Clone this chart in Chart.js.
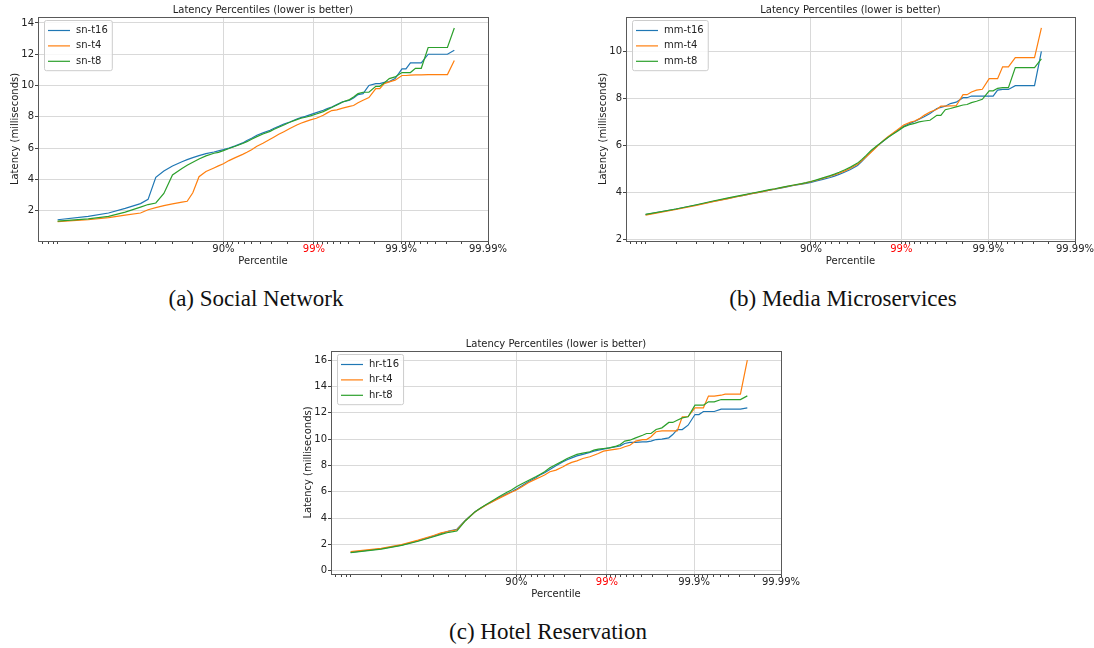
<!DOCTYPE html>
<html lang="en">
<head>
<meta charset="UTF-8">
<title>Latency Percentiles</title>
<script src="https://cdn.jsdelivr.net/npm/chart.js"></script>
<style>
  body { margin: 0; width: 1094px; height: 648px; background: #fff; overflow: hidden; position: relative; }
  canvas { position: absolute; }
  .caption { position: absolute; font-family: 'Liberation Serif', serif; font-size: 23px; line-height: 26px; color: #111; white-space: nowrap; transform: translateX(-50%); }
</style>
</head>
<body>
<canvas id="sn" width="518" height="270" style="left:0;top:0"></canvas>
<canvas id="mm" width="509" height="270" style="left:588px;top:0"></canvas>
<canvas id="hr" width="518" height="269" style="left:293px;top:334px"></canvas>
<div class="caption" style="left:256px;top:286px">(a) Social Network</div>
<div class="caption" style="left:843px;top:286px">(b) Media Microservices</div>
<div class="caption" style="left:548px;top:619px">(c) Hotel Reservation</div>

<script>
// percentile points reported by the load generator (0% and 100% fall off a logit axis)
const percentiles = [10, 20, 30, 40, 50, 55, 60, 65, 70, 75, 77.5, 80, 82.5, 85, 87.5, 88.75,
  90, 91.25, 92.5, 93.75, 94.375, 95, 95.625, 96.25, 96.875, 97.1875, 97.5, 97.8125, 98.125,
  98.4375, 98.59375, 98.75, 98.90625, 99.0625, 99.21875, 99.296875, 99.375, 99.453125, 99.53125,
  99.609375, 99.6484375, 99.6875, 99.7265625, 99.765625, 99.8046875, 99.82421875, 99.84375,
  99.86328125, 99.8828125, 99.90234375, 99.912109375, 99.921875, 99.931640625, 99.94140625,
  99.951171875, 99.9560546875, 99.9609375, 99.9658203125, 99.970703125, 99.9755859375];

// social network (ms)
const snT16 = [1.42, 1.63, 1.85, 2.15, 2.45, 2.72, 4.13, 4.54, 4.86, 5.13, 5.26, 5.39, 5.52, 5.65, 5.75, 5.82,
  5.9, 6.0, 6.14, 6.33, 6.48, 6.63, 6.82, 6.97, 7.14, 7.27, 7.39, 7.54, 7.67, 7.86, 7.95, 8.03, 8.14,
  8.27, 8.42, 8.52, 8.63, 8.78, 8.95, 9.06, 9.2, 9.42, 9.48, 10.0, 10.12, 10.12, 10.2, 10.25, 10.44,
  11.06, 11.06, 11.45, 11.45, 11.45, 12.0, 12.0, 12.0, 12.0, 12.0, 12.26];
const snT4 = [1.3, 1.42, 1.55, 1.72, 1.85, 2.06, 2.19, 2.32, 2.43, 2.54, 2.6, 3.14, 4.17, 4.5, 4.73, 4.86,
  5.0, 5.2, 5.39, 5.6, 5.73, 5.9, 6.12, 6.31, 6.56, 6.71, 6.88, 7.05, 7.25, 7.48, 7.59, 7.69, 7.8,
  7.91, 8.1, 8.25, 8.4, 8.44, 8.55, 8.67, 8.72, 8.9, 9.06, 9.23, 9.8, 9.8, 10.12, 10.23, 10.34,
  10.64, 10.64, 10.66, 10.68, 10.68, 10.7, 10.7, 10.7, 10.7, 10.7, 11.6];
const snT8 = [1.33, 1.48, 1.63, 1.91, 2.23, 2.39, 2.49, 3.1, 4.28, 4.69, 4.9, 5.09, 5.3, 5.5, 5.67, 5.73,
  5.84, 5.97, 6.12, 6.29, 6.41, 6.56, 6.73, 6.9, 7.07, 7.2, 7.33, 7.48, 7.65, 7.82, 7.91, 7.97, 8.06,
  8.18, 8.33, 8.46, 8.59, 8.76, 8.95, 9.1, 9.27, 9.48, 9.57, 9.57, 9.95, 9.95, 10.17, 10.44, 10.55,
  10.83, 10.83, 10.83, 11.1, 11.1, 12.43, 12.43, 12.43, 12.43, 12.43, 13.68];

// media microservices (ms)
const mmT16 = [3.06, 3.3, 3.47, 3.62, 3.75, 3.82, 3.88, 3.95, 4.02, 4.1, 4.14, 4.19, 4.24, 4.3, 4.36, 4.39,
  4.43, 4.49, 4.56, 4.64, 4.7, 4.77, 4.86, 4.98, 5.15, 5.32, 5.52, 5.75, 5.98, 6.22, 6.36, 6.5, 6.65,
  6.82, 6.95, 7.02, 7.12, 7.22, 7.36, 7.57, 7.62, 7.67, 7.78, 7.84, 8.03, 8.03, 8.1, 8.1, 8.1,
  8.1, 8.1, 8.35, 8.38, 8.38, 8.54, 8.54, 8.54, 8.54, 8.54, 10.0];
const mmT4 = [3.04, 3.28, 3.45, 3.61, 3.74, 3.81, 3.88, 3.95, 4.02, 4.1, 4.15, 4.2, 4.25, 4.31, 4.37, 4.41,
  4.46, 4.52, 4.6, 4.69, 4.75, 4.82, 4.91, 5.03, 5.2, 5.35, 5.52, 5.72, 5.96, 6.25, 6.38, 6.52, 6.68,
  6.87, 6.99, 7.04, 7.13, 7.28, 7.42, 7.54, 7.67, 7.67, 7.68, 7.69, 8.16, 8.16, 8.27, 8.35, 8.39,
  8.84, 8.84, 8.84, 9.34, 9.34, 9.73, 9.73, 9.73, 9.73, 9.73, 11.0];
const mmT8 = [3.07, 3.3, 3.48, 3.64, 3.77, 3.84, 3.9, 3.97, 4.04, 4.12, 4.16, 4.21, 4.26, 4.32, 4.38, 4.42,
  4.47, 4.54, 4.62, 4.72, 4.78, 4.86, 4.96, 5.08, 5.25, 5.4, 5.58, 5.8, 6.0, 6.22, 6.35, 6.48, 6.62,
  6.79, 6.9, 6.94, 7.0, 7.04, 7.07, 7.28, 7.28, 7.52, 7.57, 7.64, 7.72, 7.74, 7.82, 7.88, 7.96,
  8.32, 8.32, 8.43, 8.46, 8.46, 9.31, 9.31, 9.31, 9.31, 9.31, 9.68];

// hotel reservation (ms)
const hrT16 = [1.4, 1.67, 1.95, 2.28, 2.63, 2.82, 3.02, 3.15, 3.85, 4.48, 4.73, 4.99, 5.24, 5.54, 5.85, 6.0,
  6.2, 6.46, 6.76, 7.06, 7.27, 7.44, 7.7, 7.97, 8.28, 8.43, 8.58, 8.73, 8.84, 8.99, 9.09, 9.16, 9.24,
  9.34, 9.42, 9.49, 9.67, 9.75, 9.75, 9.8, 9.8, 9.85, 9.97, 10.0, 10.1, 10.35, 10.73, 10.73, 11.06,
  11.87, 11.87, 12.1, 12.1, 12.1, 12.28, 12.28, 12.28, 12.28, 12.28, 12.38];
const hrT4 = [1.45, 1.7, 1.98, 2.32, 2.68, 2.87, 3.0, 3.1, 3.82, 4.46, 4.72, 4.98, 5.22, 5.5, 5.8, 5.96,
  6.13, 6.38, 6.68, 6.96, 7.11, 7.27, 7.52, 7.65, 7.9, 8.08, 8.23, 8.35, 8.53, 8.66, 8.78, 8.91, 9.09,
  9.16, 9.24, 9.29, 9.42, 9.54, 9.85, 9.97, 9.97, 10.18, 10.56, 10.63, 10.63, 10.63, 10.63, 11.7, 11.72,
  12.38, 12.38, 12.38, 13.27, 13.27, 13.34, 13.42, 13.42, 13.42, 13.42, 16.0];
const hrT8 = [1.38, 1.64, 1.92, 2.24, 2.58, 2.76, 2.92, 3.02, 3.8, 4.47, 4.74, 5.02, 5.3, 5.62, 5.96, 6.14,
  6.38, 6.61, 6.86, 7.14, 7.32, 7.52, 7.82, 8.08, 8.35, 8.53, 8.68, 8.84, 8.94, 9.04, 9.16, 9.24, 9.29,
  9.34, 9.47, 9.59, 9.85, 9.92, 10.1, 10.3, 10.43, 10.43, 10.73, 10.86, 11.27, 11.27, 11.44, 11.62, 11.7,
  12.58, 12.58, 12.58, 12.84, 12.84, 13.01, 13.01, 13.01, 13.01, 13.01, 13.29];

// axis ticks
const xMajorTicks = [90, 99, 99.9, 99.99];
const xMajorLabels = ['90%', '99%', '99.9%', '99.99%'];
const xMinorTicks = [7, 8, 9, 10, 20, 30, 40, 50, 60, 70, 80,
  91, 92, 93, 94, 95, 96, 97, 98,
  99.1, 99.2, 99.3, 99.4, 99.5, 99.6, 99.7, 99.8,
  99.91, 99.92, 99.93, 99.94, 99.95, 99.96, 99.97, 99.98];
const snYTicks = [2, 4, 6, 8, 10, 12, 14];
const mmYTicks = [2, 4, 6, 8, 10];
const hrYTicks = [0, 2, 4, 6, 8, 10, 12, 14, 16];

const colors = ['#1f77b4', '#ff7f0e', '#2ca02c'];
const gridColor = '#d9d9d9';
const textColor = '#222';
const font = { family: 'DejaVu Sans', size: 10, weight: 'normal' };

// logit axis: position = log10(p / (1 - p))
const logit = p => Math.log10(p / (100 - p));
const near = (a, b) => Math.abs(a - b) < 1e-9;

// box around the axes plus a matplotlib style legend in the upper left corner
const framePlugin = {
  id: 'frame',
  afterDraw(chart) {
    const { ctx, chartArea: a } = chart;
    ctx.save();
    ctx.strokeStyle = '#595959';
    ctx.lineWidth = 1;
    ctx.strokeRect(Math.round(a.left) + 0.5, Math.round(a.top) + 0.5,
      Math.round(a.right - a.left), Math.round(a.bottom - a.top));

    const sets = chart.data.datasets;
    ctx.font = '10px "DejaVu Sans"';
    const textW = Math.max(...sets.map(d => ctx.measureText(d.label).width));
    const x0 = a.left + 6, y0 = a.top + 3;
    const w = 32 + textW + 4, h = 15.4 * sets.length + 4;
    ctx.beginPath();
    ctx.roundRect(x0 + 0.5, y0 + 0.5, w, h, 2);
    ctx.fillStyle = 'rgba(255,255,255,0.8)';
    ctx.fill();
    ctx.strokeStyle = '#cccccc';
    ctx.stroke();
    sets.forEach((d, i) => {
      const y = y0 + 10.5 + i * 15.4;
      ctx.strokeStyle = d.borderColor;
      ctx.lineWidth = d.borderWidth;
      ctx.beginPath();
      ctx.moveTo(x0 + 4, y);
      ctx.lineTo(x0 + 26, y);
      ctx.stroke();
      ctx.fillStyle = textColor;
      ctx.textBaseline = 'middle';
      ctx.fillText(d.label, x0 + 32, y);
    });
    ctx.restore();
  }
};

function drawPanel(id, labels, series, yMin, yMax, yTicks, rightPad) {
  const xs = percentiles.map(logit);
  return new Chart(document.getElementById(id), {
    type: 'line',
    data: {
      datasets: series.map((ys, i) => ({
        label: labels[i],
        data: ys.map((y, j) => ({ x: xs[j], y: y })),
        borderColor: colors[i],
        borderWidth: 1.2,
        pointRadius: 0,
        fill: false,
        tension: 0,
        order: series.length - i
      }))
    },
    options: {
      responsive: false,
      animation: false,
      layout: { padding: { left: 0, right: rightPad, top: 0, bottom: 3 } },
      plugins: {
        legend: { display: false },
        tooltip: { enabled: false },
        title: {
          display: true,
          text: 'Latency Percentiles (lower is better)',
          fullSize: false,
          color: textColor,
          font: font,
          padding: { top: 4, bottom: 1 }
        }
      },
      scales: {
        x: {
          type: 'linear',
          min: -1.18,
          max: logit(99.99),
          afterBuildTicks: s => {
            const t = xMinorTicks.map(p => ({ value: logit(p) }))
              .concat(xMajorTicks.map(p => ({ value: logit(p), major: true })));
            s.ticks = t.sort((a, b) => a.value - b.value);
          },
          afterFit: s => { s.height = 26; },
          ticks: {
            autoSkip: false,
            maxRotation: 0,
            padding: 0,
            font: { ...font, lineHeight: 1 },
            color: c => (c.tick && near(c.tick.value, logit(99))) ? '#ff0000' : textColor,
            callback: v => {
              const k = xMajorTicks.findIndex(p => near(logit(p), v));
              return k >= 0 ? xMajorLabels[k] : '';
            }
          },
          grid: {
            color: c => (c.tick && c.tick.major) ? gridColor : 'rgba(0,0,0,0)',
            tickColor: '#444',
            tickLength: 3
          },
          border: { display: false },
          title: { display: true, text: 'Percentile', color: textColor, font: font, padding: 0 }
        },
        y: {
          min: yMin,
          max: yMax,
          afterBuildTicks: s => { s.ticks = yTicks.map(v => ({ value: v })); },
          afterFit: s => { s.width = 38; },
          ticks: { padding: 1, color: textColor, font: font },
          grid: { color: gridColor, tickColor: '#444', tickLength: 3 },
          border: { display: false },
          title: {
            display: true,
            text: 'Latency (milliseconds)',
            color: textColor,
            font: font,
            padding: { top: 9, bottom: 0 }
          }
        }
      }
    },
    plugins: [framePlugin]
  });
}

drawPanel('sn', ['sn-t16', 'sn-t4', 'sn-t8'], [snT16, snT4, snT8], 0.06, 14.38, snYTicks, 30);
drawPanel('mm', ['mm-t16', 'mm-t4', 'mm-t8'], [mmT16, mmT4, mmT8], 1.94, 11.46, mmYTicks, 22);
drawPanel('hr', ['hr-t16', 'hr-t4', 'hr-t8'], [hrT16, hrT4, hrT8], -0.25, 16.7, hrYTicks, 30);
</script>
</body>
</html>
